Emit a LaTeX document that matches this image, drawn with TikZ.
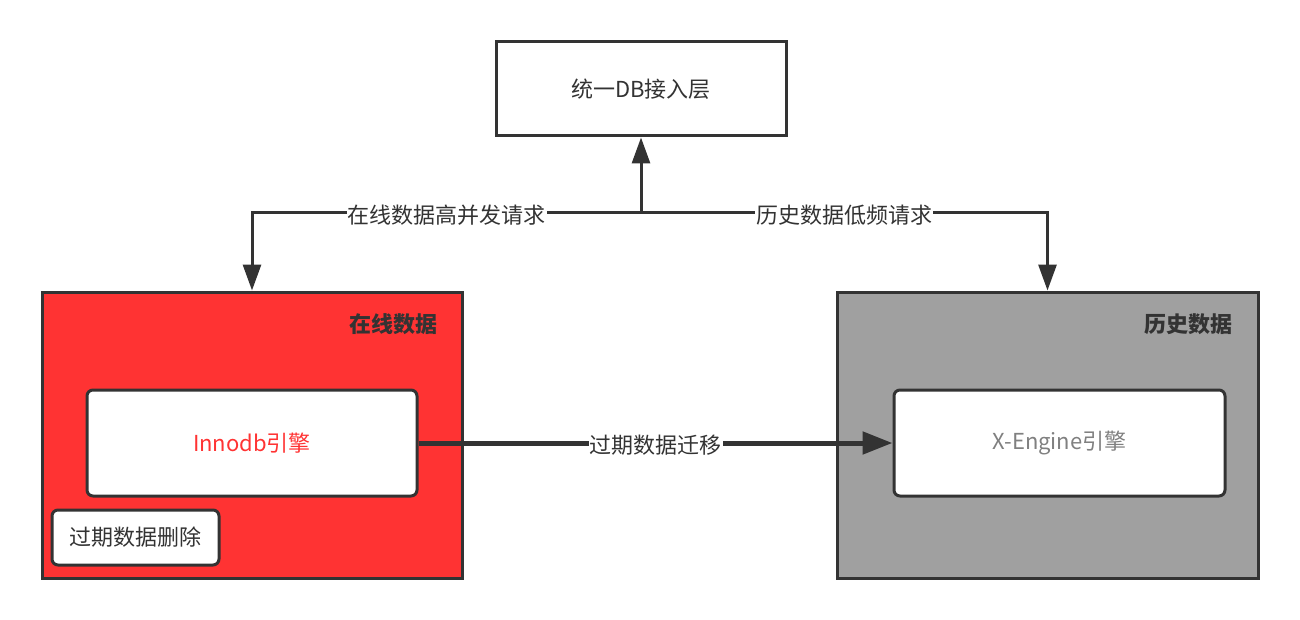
\documentclass[tikz,border=0pt]{standalone}
\usepackage{fontspec}
\setmainfont{Noto Sans CJK SC}
\usetikzlibrary{arrows.meta}
\definecolor{ink}{HTML}{333333}
\definecolor{redfill}{HTML}{FF3333}
\definecolor{grayfill}{HTML}{A0A0A0}
\definecolor{graytext}{HTML}{808080}
\tikzset{
  base/.style={font=\fontsize{22}{26}\selectfont, text=ink},
  plainbox/.style={base, draw=ink, line width=3pt, fill=white, inner sep=0pt},
  container/.style={draw=ink, line width=3pt, inner sep=0pt},
  engine/.style={plainbox, rounded corners=6pt},
  conn/.style={draw=ink, line width=3pt, -{Triangle[length=26pt,width=18pt]}},
  bigconn/.style={draw=ink, line width=5pt, -{Triangle[length=30pt,width=22pt]}},
  lbl/.style={base, fill=white, inner sep=1pt, yshift=-2pt},
  title/.style={font=\fontsize{22}{26}\selectfont\bfseries, text=ink},
}
\begin{document}
\begin{tikzpicture}[x=1pt,y=-1pt]
\useasboundingbox (0,0) rectangle (1300,620);
\node[plainbox, minimum width=290pt, minimum height=94pt] (db) at (641,89) {统一DB接入层};
\node[container, fill=redfill, minimum width=420pt, minimum height=286pt] (online) at (252,435) {};
\node[container, fill=grayfill, minimum width=421pt, minimum height=286pt] (hist) at (1047.5,435) {};
\node[title] (onlinet) at (393,324) {在线数据};
\node[title] (histt) at (1188,324) {历史数据};
\node[engine, minimum width=330pt, minimum height=106pt, text=redfill] (inno) at (252,443) {Innodb引擎};
\node[engine, minimum width=331pt, minimum height=106pt, text=graytext] (xeng) at (1059.5,443) {X-Engine引擎};
\node[engine, minimum width=167pt, minimum height=55pt] (del) at (135.5,537.5) {过期数据删除};
\coordinate (j) at (641,213);
\draw[conn] (j) -- (db.south);
\draw[conn] (j) -| node[lbl, pos=0.25] {在线数据高并发请求} (online.north);
\draw[conn] (j) -| node[lbl, pos=0.25] {历史数据低频请求} (hist.north);
\draw[bigconn] (inno.east) -- node[lbl] {过期数据迁移} (xeng.west);
\end{tikzpicture}
\end{document}
